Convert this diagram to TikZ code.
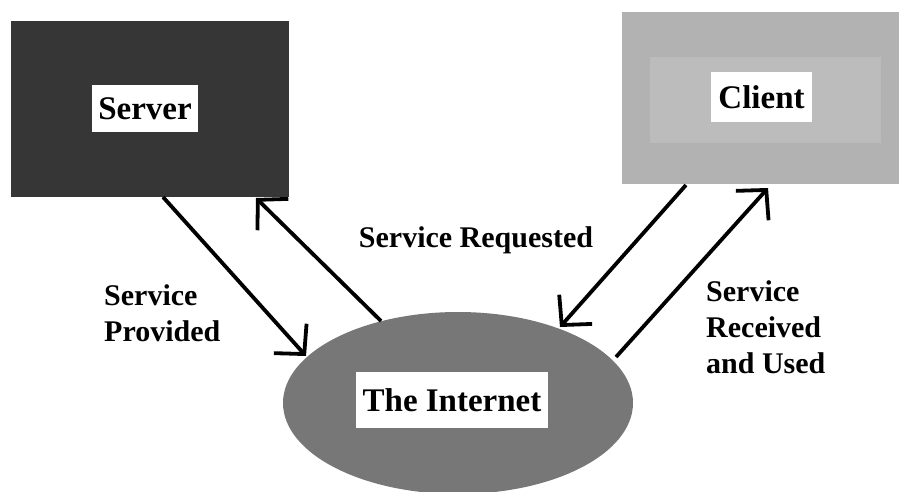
\documentclass[tikz,border=0pt]{standalone}
\usepackage{fontspec}
\setmainfont{Liberation Serif}
\usetikzlibrary{arrows.meta,shapes.geometric}
\definecolor{srvgray}{HTML}{363636}
\definecolor{cliout}{HTML}{B2B2B2}
\definecolor{cliin}{HTML}{BCBCBC}
\definecolor{netgray}{HTML}{777777}
\tikzset{
  boxlabel/.style={fill=white, inner sep=0pt, font=\fontsize{33}{38}\selectfont\bfseries},
  edgelabel/.style={align=left, inner sep=0pt, anchor=north west, font=\fontsize{30}{36}\selectfont\bfseries},
  flow/.style={line width=3.8pt, -{Straight Barb[length=21pt,width=44pt,line width=3.8pt]}},
}
\begin{document}
\begin{tikzpicture}[x=1pt,y=-1pt]
\useasboundingbox (0,0) rectangle (899,492);
% boxes
\node[fill=srvgray, minimum width=278pt, minimum height=176pt, inner sep=0pt] (server) at (150,109) {};
\node[fill=cliout, minimum width=277pt, minimum height=172pt, inner sep=0pt] (client) at (760.5,98) {};
\node[fill=cliin, minimum width=231pt, minimum height=86pt, inner sep=0pt] (clientin) at (765.5,100) {};
\node[ellipse, fill=netgray, minimum width=350pt, minimum height=182pt, inner sep=0pt] (inet) at (458,403) {};
% labels
\node[boxlabel, minimum width=106pt, minimum height=47pt] (serverlbl) at (145,108.5) {Server};
\node[boxlabel, minimum width=101pt, minimum height=50pt] (clientlbl) at (761.5,97) {Client};
\node[boxlabel, minimum width=192pt, minimum height=56pt] (inetlbl) at (452,400) {The Internet};
\node[edgelabel] (prov) at (104,284) {Service\\Provided};
\node[edgelabel] (recv) at (706,280) {Service\\Received\\and Used};
\node[font=\fontsize{30}{36}\selectfont\bfseries, inner sep=0pt] (req) at (476,240) {Service Requested};
% connector end points
\coordinate (s1) at (163,197);
\coordinate (i1) at (306,356);
\coordinate (i2) at (381,321);
\coordinate (s2) at (256,198);
\coordinate (c1) at (686,185);
\coordinate (i3) at (560,327);
\coordinate (i4) at (616,357);
\coordinate (c2) at (768,188);
\draw[flow] (s1) -- (i1);
\draw[flow] (i2) -- (s2);
\draw[flow] (c1) -- (i3);
\draw[flow] (i4) -- (c2);
\end{tikzpicture}
\end{document}
